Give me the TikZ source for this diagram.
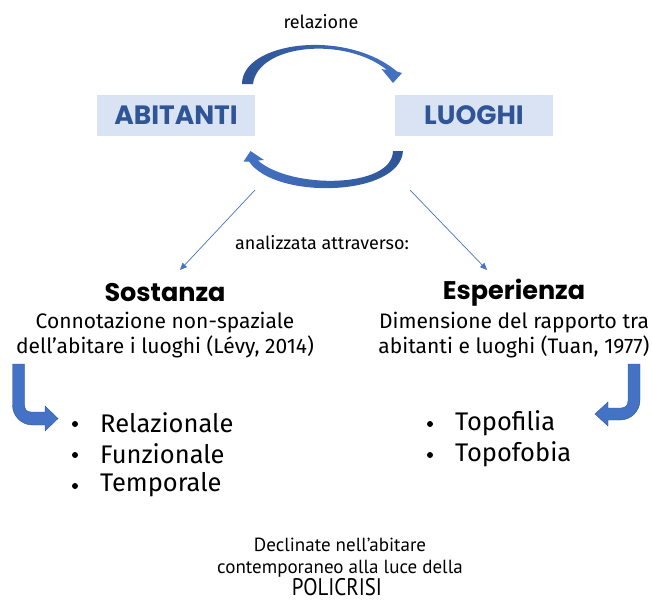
\documentclass[tikz,border=0pt]{standalone}
\usepackage{fontspec}
\setmainfont{Fira Sans}
\newfontfamily\headfont{Poppins}
\newfontfamily\narrowfont{PT Sans}
\newfontfamily\condfont[FakeStretch=0.87]{PT Sans}
\usetikzlibrary{arrows.meta}
\definecolor{boxfill}{HTML}{DAE3F3}
\definecolor{boxtext}{HTML}{2F5597}
\definecolor{arclight}{HTML}{4472C4}
\definecolor{arcdark}{HTML}{2F5597}
\definecolor{thinline}{HTML}{4472C4}
\tikzset{
  keybox/.style={fill=boxfill, minimum width=158pt, minimum height=41pt, inner sep=0pt,
    text=boxtext, font=\headfont\fontsize{26.5}{28}\selectfont\bfseries},
  heading/.style={font=\headfont\fontsize{25.5}{28}\selectfont\bfseries, inner sep=0pt},
  desc/.style={font=\fontsize{21}{25}\selectfont, align=center, inner sep=0pt},
  small/.style={font=\fontsize{18}{20}\selectfont, inner sep=0pt},
  item/.style={font=\fontsize{25.5}{28}\selectfont, anchor=west, inner sep=0pt},
  dot/.style={circle, fill=black, inner sep=0pt, minimum size=6pt},
  thinarrow/.style={draw=thinline, line width=0.7pt, -{Triangle[length=7pt,width=6pt]}},
  bigarrow/.style={fill=arclight, draw=arcdark, line width=0.4pt},
}
\begin{document}
\begin{tikzpicture}[x=1pt,y=-1pt]
\useasboundingbox (0,0) rectangle (652,603);
% title
\node[small] (rel) at (321,22) {relazione};
% boxes
\node[keybox] (abit) at (176,115.5) {ABITANTI};
\node[keybox] (luog) at (474,115.5) {LUOGHI};
% top curved arrow
\shade[left color=arcdark, right color=arclight]
  (242,84) .. controls (242,42) and (345,28) .. (397,71.5)
  -- (402,73) -- (393,83) -- (381.5,69) -- (387,70)
  .. controls (345,36) and (258,44) .. (253,84) -- cycle;
% bottom curved arrow
\shade[right color=arcdark, left color=arclight]
  (403,151) .. controls (400,197) and (275,200) .. (249,161.5)
  -- (243.5,161.5) -- (250.5,151) -- (264,160) -- (258,160.5)
  .. controls (290,189) and (392,189) .. (393,151) -- cycle;
% analysis label
\node[small] (anal) at (322,243) {analizzata attraverso:};
\coordinate (sA) at (255,190);
\coordinate (sB) at (180,270);
\coordinate (eA) at (410,190);
\coordinate (eB) at (487,270);
\draw[thinarrow] (sA) -- (sB);
\draw[thinarrow] (eA) -- (eB);
% headings
\node[heading] (sost) at (165,293) {Sostanza};
\node[heading] (espe) at (514,293) {Esperienza};
\node[desc] (sostd) at (165,335.5) {Connotazione non-spaziale\\dell’abitare i luoghi (Lévy, 2014)};
\node[desc] (esped) at (514,335.5) {Dimensione del rapporto tra\\abitanti e luoghi (Tuan, 1977)};
% bent arrows
\path[bigarrow] (24.5,364) -- (12.5,364) -- (12.5,405)
  .. controls (12.5,416) and (21.5,425) .. (32.5,425) -- (45,425) -- (45,431)
  -- (58,418.5) -- (45,406) -- (45,412) -- (31,412)
  .. controls (27,412) and (24.5,409.5) .. (24.5,405) -- cycle;
\path[bigarrow] (628,364) -- (640,364) -- (640,400)
  .. controls (640,411) and (631,420) .. (620,420) -- (608,420) -- (608,426)
  -- (595,414) -- (608,402) -- (608,408) -- (621,408)
  .. controls (625,408) and (628,405.5) .. (628,401) -- cycle;
% bullet lists
\node[dot] (d1) at (75,424) {};
\node[dot] (d2) at (75,455) {};
\node[dot] (d3) at (75,486) {};
\node[item] (i1) at (100,423) {Relazionale};
\node[item] (i2) at (100,454) {Funzionale};
\node[item] (i3) at (100,485) {Temporale};
\node[dot] (d4) at (430,424) {};
\node[dot] (d5) at (430,455) {};
\node[item] (i4) at (455,423) {Topofilia};
\node[item] (i5) at (455,454) {Topofobia};
% bottom text
\node[font=\narrowfont\fontsize{19}{22}\selectfont, align=center, inner sep=0pt] (decl) at (340,558) {Declinate nell’abitare\\contemporaneo alla luce della};
\node[font=\condfont\fontsize{24}{26}\selectfont, inner sep=0pt, anchor=base] (poli) at (337,595) {POLICRISI};
\end{tikzpicture}
\end{document}
